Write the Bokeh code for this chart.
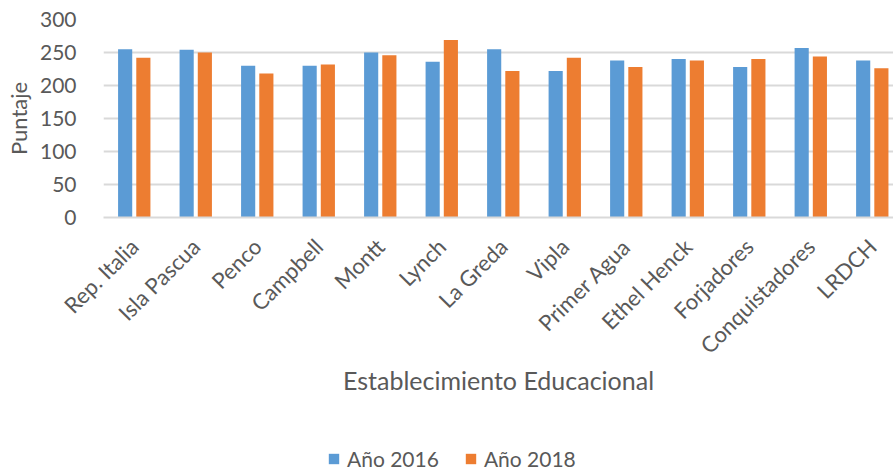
import math
from bokeh.plotting import figure
from bokeh.layouts import column
from bokeh.models import ColumnDataSource, Range1d, FixedTicker, Legend, LegendItem
from bokeh.transform import dodge
from bokeh.embed import file_html
from bokeh.resources import INLINE

categories = ["Rep. Italia", "Isla Pascua", "Penco", "Campbell", "Montt", "Lynch",
              "La Greda", "Vipla", "Primer Agua", "Ethel Henck", "Forjadores",
              "Conquistadores", "LRDCH"]
anio_2016 = [255, 254, 230, 230, 250, 236, 255, 222, 238, 240, 228, 257, 238]
anio_2018 = [242, 250, 218, 232, 246, 269, 222, 242, 228, 238, 240, 244, 226]
series_names = ["Año 2016", "Año 2018"]
y_ticks = [0, 50, 100, 150, 200, 250, 300]

FONT = "Lato"
TXT = "#595959"
BLUE = "#5B9BD5"
ORANGE = "#ED7D31"

idx = list(range(len(categories)))
src = ColumnDataSource(dict(x=idx, a=anio_2016, b=anio_2018))

p = figure(width=893, height=430, output_backend="svg", toolbar_location=None,
           x_range=Range1d(-0.5, 12.345), y_range=Range1d(0, 300))
p.min_border_left = 103
p.min_border_right = 0
p.min_border_top = 19
p.min_border_bottom = 213
p.outline_line_color = None
p.background_fill_color = "white"
p.border_fill_color = "white"

r1 = p.vbar(x=dodge("x", -0.148), top="a", width=0.23, source=src,
            fill_color=BLUE, line_color=None)
r2 = p.vbar(x=dodge("x", 0.148), top="b", width=0.23, source=src,
            fill_color=ORANGE, line_color=None)

p.xgrid.grid_line_color = None
p.ygrid.grid_line_color = "#d9d9d9"
p.ygrid.grid_line_width = 2
p.ygrid.ticker = FixedTicker(ticks=y_ticks)

p.yaxis.ticker = FixedTicker(ticks=y_ticks)
p.yaxis.axis_line_color = None
p.yaxis.major_tick_line_color = None
p.yaxis.minor_tick_line_color = None
p.yaxis.major_label_text_font = FONT
p.yaxis.major_label_text_font_size = "21px"
p.yaxis.major_label_text_color = TXT
p.yaxis.major_label_standoff = 21
p.yaxis.axis_label = "Puntaje"
p.yaxis.axis_label_text_font = FONT
p.yaxis.axis_label_text_font_size = "22px"
p.yaxis.axis_label_text_font_style = "normal"
p.yaxis.axis_label_text_color = TXT
p.yaxis.axis_label_standoff = 5

p.xaxis.ticker = FixedTicker(ticks=idx)
p.xaxis.major_label_overrides = {i: c for i, c in zip(idx, categories)}
p.xaxis.major_label_orientation = math.pi / 4
p.xaxis.axis_line_color = "#d9d9d9"
p.xaxis.axis_line_width = 2
p.xaxis.major_tick_line_color = None
p.xaxis.minor_tick_line_color = None
p.xaxis.major_label_text_font = FONT
p.xaxis.major_label_text_font_size = "22px"
p.xaxis.major_label_text_color = TXT
p.xaxis.major_label_standoff = 19
p.xaxis.axis_label = "Establecimiento Educacional"
p.xaxis.axis_label_text_font = FONT
p.xaxis.axis_label_text_font_size = "25px"
p.xaxis.axis_label_text_font_style = "normal"
p.xaxis.axis_label_text_color = TXT
p.xaxis.axis_label_standoff = -6

# legend strip below the chart
q = figure(width=893, height=41, output_backend="svg", toolbar_location=None,
           x_range=Range1d(0, 1), y_range=Range1d(0, 1))
q.min_border_left = 0
q.min_border_right = 0
q.min_border_top = 0
q.min_border_bottom = 0
q.outline_line_color = None
q.axis.visible = False
q.grid.visible = False
swatch = ColumnDataSource(dict(x=[0.5], top=[-1]))
l1 = q.vbar(x="x", top="top", width=0.1, source=swatch, fill_color=BLUE, line_color=None)
l2 = q.vbar(x="x", top="top", width=0.1, source=swatch, fill_color=ORANGE, line_color=None)

legend = Legend(items=[LegendItem(label=series_names[0], renderers=[l1]),
                       LegendItem(label=series_names[1], renderers=[l2])],
                orientation="horizontal", location=(224, 0))
legend.label_text_font = FONT
legend.label_text_font_size = "21px"
legend.label_text_color = TXT
legend.glyph_width = 13
legend.glyph_height = 13
legend.spacing = 25
legend.label_standoff = 7
legend.border_line_color = None
legend.background_fill_alpha = 0
legend.margin = 0
legend.padding = 0
q.add_layout(legend, "center")

layout = column(p, q, spacing=0)
open("out.html", "w").write(file_html(layout, INLINE))
